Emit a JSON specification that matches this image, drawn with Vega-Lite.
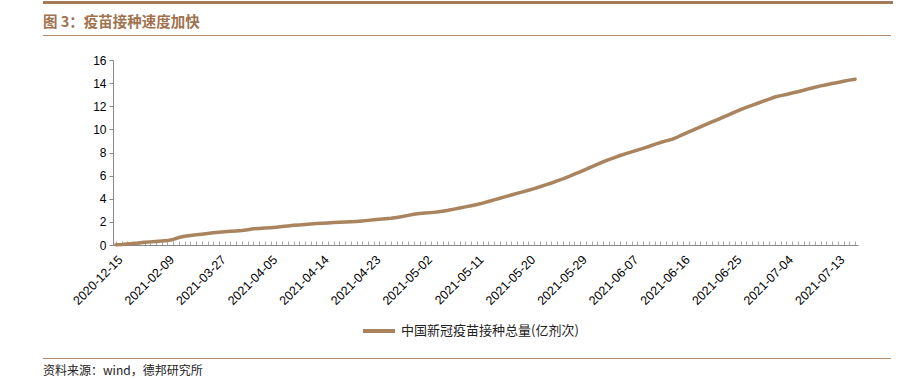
{
  "$schema": "https://vega.github.io/schema/vega-lite/v6.json",
  "padding": {"left": 43, "top": 1, "right": 0, "bottom": 0},
  "autosize": {"type": "pad"},
  "background": "white",
  "config": {"font": "Liberation Sans", "view": {"stroke": null}},
  "columns": 1,
  "spacing": 18,
  "resolve": {"legend": {"color": "independent"}},
  "concat": [
    {
      "columns": 1,
      "spacing": 10,
      "concat": [
        {
          "width": 850, "height": 3,
          "view": {"fill": "#a47b59", "stroke": null},
          "data": {"values": []},
          "mark": "point",
          "encoding": {}
        },
        {
          "width": 848, "height": 1,
          "view": {"fill": "#b08c6c", "stroke": null},
          "title": {"text": "图 3：疫苗接种速度加快", "anchor": "start", "frame": "group", "offset": 5, "fontSize": 14.5, "fontWeight": "bold", "color": "#a0724f", "font": "Noto Sans CJK SC"},
          "data": {"values": []},
          "mark": "point",
          "encoding": {}
        }
      ]
    },
    {
      "columns": 1,
      "spacing": 19,
      "resolve": {"legend": {"color": "independent"}},
      "concat": [
        {
          "width": 815, "height": 185,
          "data": {"values": [
            {"date": "2020-12-15", "v": 0.02}, {"date": "2020-12-31", "v": 0.045}, {"date": "2021-01-09", "v": 0.09}, {"date": "2021-01-15", "v": 0.13}, {"date": "2021-01-20", "v": 0.18}, {"date": "2021-01-27", "v": 0.23}, {"date": "2021-01-31", "v": 0.27}, {"date": "2021-02-03", "v": 0.31}, {"date": "2021-02-07", "v": 0.34}, {"date": "2021-02-09", "v": 0.38},
            {"date": "2021-03-14", "v": 0.48}, {"date": "2021-03-20", "v": 0.65}, {"date": "2021-03-21", "v": 0.76}, {"date": "2021-03-22", "v": 0.82}, {"date": "2021-03-23", "v": 0.88}, {"date": "2021-03-24", "v": 0.93}, {"date": "2021-03-25", "v": 0.99}, {"date": "2021-03-26", "v": 1.05},
            {"date": "2021-03-27", "v": 1.10}, {"date": "2021-03-28", "v": 1.14}, {"date": "2021-03-29", "v": 1.18}, {"date": "2021-03-30", "v": 1.22}, {"date": "2021-03-31", "v": 1.26},
            {"date": "2021-04-01", "v": 1.32}, {"date": "2021-04-02", "v": 1.40}, {"date": "2021-04-03", "v": 1.43}, {"date": "2021-04-04", "v": 1.46}, {"date": "2021-04-05", "v": 1.50}, {"date": "2021-04-06", "v": 1.54}, {"date": "2021-04-07", "v": 1.59}, {"date": "2021-04-08", "v": 1.64}, {"date": "2021-04-09", "v": 1.70}, {"date": "2021-04-10", "v": 1.74},
            {"date": "2021-04-11", "v": 1.78}, {"date": "2021-04-12", "v": 1.82}, {"date": "2021-04-13", "v": 1.85}, {"date": "2021-04-14", "v": 1.88}, {"date": "2021-04-15", "v": 1.91}, {"date": "2021-04-16", "v": 1.94}, {"date": "2021-04-17", "v": 1.96}, {"date": "2021-04-18", "v": 1.98}, {"date": "2021-04-19", "v": 2.01}, {"date": "2021-04-20", "v": 2.04},
            {"date": "2021-04-21", "v": 2.08}, {"date": "2021-04-22", "v": 2.13}, {"date": "2021-04-23", "v": 2.18}, {"date": "2021-04-24", "v": 2.22}, {"date": "2021-04-25", "v": 2.26}, {"date": "2021-04-26", "v": 2.31}, {"date": "2021-04-27", "v": 2.38}, {"date": "2021-04-28", "v": 2.46}, {"date": "2021-04-29", "v": 2.56}, {"date": "2021-04-30", "v": 2.66},
            {"date": "2021-05-01", "v": 2.72}, {"date": "2021-05-02", "v": 2.76}, {"date": "2021-05-03", "v": 2.80}, {"date": "2021-05-04", "v": 2.85}, {"date": "2021-05-05", "v": 2.92}, {"date": "2021-05-06", "v": 3.00}, {"date": "2021-05-07", "v": 3.10}, {"date": "2021-05-08", "v": 3.20}, {"date": "2021-05-09", "v": 3.30}, {"date": "2021-05-10", "v": 3.40},
            {"date": "2021-05-11", "v": 3.50}, {"date": "2021-05-12", "v": 3.62}, {"date": "2021-05-13", "v": 3.76}, {"date": "2021-05-14", "v": 3.90}, {"date": "2021-05-15", "v": 4.04}, {"date": "2021-05-16", "v": 4.18}, {"date": "2021-05-17", "v": 4.32}, {"date": "2021-05-18", "v": 4.46}, {"date": "2021-05-19", "v": 4.60}, {"date": "2021-05-20", "v": 4.74},
            {"date": "2021-05-21", "v": 4.88}, {"date": "2021-05-22", "v": 5.04}, {"date": "2021-05-23", "v": 5.20}, {"date": "2021-05-24", "v": 5.36}, {"date": "2021-05-25", "v": 5.54}, {"date": "2021-05-26", "v": 5.72}, {"date": "2021-05-27", "v": 5.92}, {"date": "2021-05-28", "v": 6.12}, {"date": "2021-05-29", "v": 6.32}, {"date": "2021-05-30", "v": 6.54},
            {"date": "2021-05-31", "v": 6.76}, {"date": "2021-06-01", "v": 6.98}, {"date": "2021-06-02", "v": 7.18}, {"date": "2021-06-03", "v": 7.38}, {"date": "2021-06-04", "v": 7.56}, {"date": "2021-06-05", "v": 7.74}, {"date": "2021-06-06", "v": 7.90}, {"date": "2021-06-07", "v": 8.05}, {"date": "2021-06-08", "v": 8.20}, {"date": "2021-06-09", "v": 8.36},
            {"date": "2021-06-10", "v": 8.52}, {"date": "2021-06-11", "v": 8.70}, {"date": "2021-06-12", "v": 8.86}, {"date": "2021-06-13", "v": 9.00}, {"date": "2021-06-14", "v": 9.14}, {"date": "2021-06-15", "v": 9.34}, {"date": "2021-06-16", "v": 9.56}, {"date": "2021-06-17", "v": 9.78}, {"date": "2021-06-18", "v": 10.00}, {"date": "2021-06-19", "v": 10.22},
            {"date": "2021-06-20", "v": 10.44}, {"date": "2021-06-21", "v": 10.64}, {"date": "2021-06-22", "v": 10.84}, {"date": "2021-06-23", "v": 11.06}, {"date": "2021-06-24", "v": 11.28}, {"date": "2021-06-25", "v": 11.50}, {"date": "2021-06-26", "v": 11.70}, {"date": "2021-06-27", "v": 11.90}, {"date": "2021-06-28", "v": 12.08}, {"date": "2021-06-29", "v": 12.26},
            {"date": "2021-06-30", "v": 12.44}, {"date": "2021-07-01", "v": 12.62}, {"date": "2021-07-02", "v": 12.80}, {"date": "2021-07-03", "v": 12.92}, {"date": "2021-07-04", "v": 13.02}, {"date": "2021-07-05", "v": 13.14}, {"date": "2021-07-06", "v": 13.26}, {"date": "2021-07-07", "v": 13.38}, {"date": "2021-07-08", "v": 13.52}, {"date": "2021-07-09", "v": 13.64},
            {"date": "2021-07-10", "v": 13.76}, {"date": "2021-07-11", "v": 13.86}, {"date": "2021-07-12", "v": 13.96}, {"date": "2021-07-13", "v": 14.06}, {"date": "2021-07-14", "v": 14.16}, {"date": "2021-07-15", "v": 14.26}, {"date": "2021-07-16", "v": 14.34}
          ]},
          "mark": {"type": "line", "strokeWidth": 3.5, "strokeCap": "round", "strokeJoin": "round"},
          "encoding": {
            "x": {
              "field": "date", "type": "ordinal", "sort": null,
              "scale": {"type": "point", "padding": 0.5, "range": [70, 815]},
              "axis": {
                "title": null,
                "labelExpr": "indexof(['2020-12-15','2021-02-09','2021-03-27','2021-04-05','2021-04-14','2021-04-23','2021-05-02','2021-05-11','2021-05-20','2021-05-29','2021-06-07','2021-06-16','2021-06-25','2021-07-04','2021-07-13'], datum.label) >= 0 ? datum.label : ''",
                "labelAngle": -45, "labelAlign": "right", "labelBaseline": "top",
                "labelFontSize": 12.5, "labelColor": "#000", "labelPadding": 12,
                "labelOverlap": false, "labelBound": false,
                "tickSize": -4, "tickColor": "#aaa", "tickWidth": 1,
                "domainColor": "#888", "domainWidth": 1, "grid": false
              }
            },
            "y": {
              "field": "v", "type": "quantitative",
              "scale": {"domain": [0, 16], "nice": false},
              "axis": {
                "values": [0, 2, 4, 6, 8, 10, 12, 14, 16],
                "title": null, "offset": -70,
                "labelFontSize": 12, "labelColor": "#000", "labelPadding": 3,
                "tickSize": 4, "tickColor": "#888", "domainColor": "#888", "grid": false
              }
            },
            "color": {
              "datum": "中国新冠疫苗接种总量(亿剂次)", "type": "nominal",
              "scale": {"range": ["#a9845e"]},
              "legend": {
                "orient": "none", "legendX": 318, "legendY": 253, "title": null,
                "symbolType": "stroke", "symbolSize": 1024, "symbolStrokeWidth": 4,
                "labelFont": "Noto Sans CJK SC", "labelFontSize": 13, "labelColor": "#222", "labelOffset": 4, "labelLimit": 400, "padding": 0
              }
            }
          }
        },
        {
          "width": 848, "height": 1,
          "view": {"fill": "#b08c6c", "stroke": null},
          "title": {"text": "资料来源：wind，德邦研究所", "orient": "bottom", "anchor": "start", "frame": "group", "offset": 7, "fontSize": 12, "fontWeight": "normal", "color": "#222", "font": "Noto Sans CJK SC"},
          "data": {"values": []},
          "mark": "point",
          "encoding": {}
        }
      ]
    }
  ]
}
